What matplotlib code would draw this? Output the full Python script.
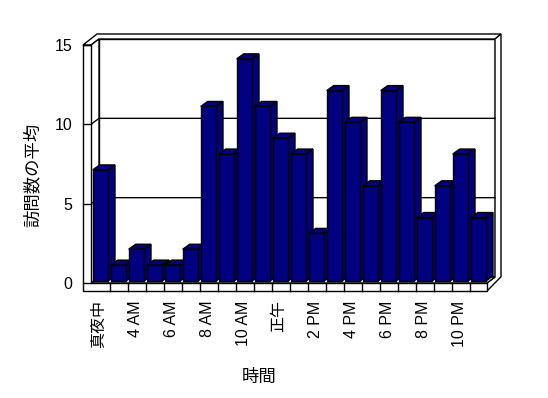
import matplotlib
matplotlib.use("Agg")
import matplotlib.pyplot as plt
from matplotlib.patches import Polygon
import matplotlib.transforms as mtransforms

plt.rcParams['font.family'] = ['Liberation Sans', 'Noto Sans CJK JP', 'DejaVu Sans']

# ---- data ----
values = [7, 1, 2, 1, 1, 2, 11, 8, 14, 11, 9, 8, 3, 12, 10, 6, 12, 10, 4, 6, 8, 4]
tick_idx = [0, 2, 4, 6, 8, 10, 12, 14, 16, 18, 20]
tick_labels = ['真夜中', '4 AM', '6 AM', '8 AM', '10 AM', '正午', '2 PM', '4 PM',
               '6 PM', '8 PM', '10 PM']
y_ticks = [0, 5, 10, 15]
y_label = '訪問数の平均'
x_label = '時間'

BAR_COLOR = '#000080'
W, H = 548, 398
fig = plt.figure(figsize=(W / 100, H / 100), dpi=100)
# front plane of the 3D box
L, R, T, B = 92, 488, 45, 283
ax = fig.add_axes([L / W, 1 - B / H, (R - L) / W, (B - T) / H])
n = len(values)
ax.set_xlim(-0.5, n - 0.5)
ax.set_ylim(0, 15)
for s in ax.spines.values():
    s.set_visible(False)

sx = (R - L) / n          # px per category
sy = (B - T) / 15.0       # px per value unit


def px(dx_px, dy_px):
    """convert a pixel offset to data units (dy positive = up)"""
    return dx_px / sx, dy_px / sy


# geometry in data units
Dx, Dy = px(8, 6)          # wall depth
Tx, Ty = px(6, 5)          # back wall thickness
wall_out = -0.5 - 9 / sx   # outer x of side wall
wall_in = -0.5 - 1 / sx    # inner x of side wall
floor_bot = -8 / sy
x_end = n - 0.5 - 1 / sx
ymax = 15

kw = dict(closed=True, fill=True, facecolor='white', edgecolor='black',
          linewidth=1.0, clip_on=False, joinstyle='miter')

# back wall inner face
ax.add_patch(Polygon([(wall_in + Dx, Dy), (x_end + Dx, Dy), (x_end + Dx, ymax + Dy),
                      (wall_in + Dx, ymax + Dy)], zorder=1, **kw))
# back wall top
ax.add_patch(Polygon([(wall_in + Dx, ymax + Dy), (x_end + Dx, ymax + Dy),
                      (x_end + Dx + Tx, ymax + Dy + Ty), (wall_out + Dx + Tx, ymax + Dy + Ty),
                      (wall_out, ymax), (wall_in, ymax)], zorder=1, **kw))
# back wall right edge + floor right side
ax.add_patch(Polygon([(x_end + Dx, Dy), (x_end + Dx, ymax + Dy),
                      (x_end + Dx + Tx, ymax + Dy + Ty), (x_end + Dx + Tx, Dy + Ty - 0.3),
                      (x_end, floor_bot), (x_end, 0)], zorder=1, **kw))
# floor top
ax.add_patch(Polygon([(wall_in, 0), (x_end, 0), (x_end + Dx, Dy), (wall_in + Dx, Dy)],
                     zorder=1, **kw))
# side wall inner face
ax.add_patch(Polygon([(wall_in, 0), (wall_in + Dx, Dy), (wall_in + Dx, ymax + Dy),
                      (wall_in, ymax)], zorder=1, **kw))
# gridlines on back wall and side wall
for v in y_ticks[1:-1]:
    ax.plot([wall_in, wall_in + Dx, x_end + Dx], [v, v + Dy, v + Dy],
            color='black', lw=1.0, zorder=2, clip_on=False)
# front L (side wall front + floor front)
ax.add_patch(Polygon([(wall_out, ymax), (wall_in, ymax), (wall_in, 0), (x_end, 0),
                      (x_end, floor_bot), (wall_out, floor_bot)], zorder=5, **kw))
for v in y_ticks:
    ax.plot([wall_out, wall_in], [v, v], color='black', lw=1.0, zorder=6, clip_on=False)
for i in range(1, n):
    ax.plot([i - 0.5, i - 0.5], [0, floor_bot], color='black', lw=1.0, zorder=6,
            clip_on=False)

# bars
bx0, by0 = px(0.7, 2)     # bar front offset
bw = 15.3 / sx
bdx, bdy = px(7, 5)
bkw = dict(closed=True, facecolor=BAR_COLOR, edgecolor='black', linewidth=1.0,
           clip_on=False, joinstyle='miter')
for i, v in enumerate(values):
    x0 = i - 0.5 + bx0
    x1 = x0 + bw
    y0 = by0
    y1 = by0 + v
    z = 3 + i * 0.01
    ax.add_patch(Polygon([(x1, y0), (x1 + bdx, y0 + bdy), (x1 + bdx, y1 + bdy), (x1, y1)],
                         zorder=z, **bkw))
    ax.add_patch(Polygon([(x0, y1), (x1, y1), (x1 + bdx, y1 + bdy), (x0 + bdx, y1 + bdy)],
                         zorder=z, **bkw))
    ax.add_patch(Polygon([(x0, y0), (x1, y0), (x1, y1), (x0, y1)], zorder=z + 0.001, **bkw))

# ticks / labels
ax.set_yticks(y_ticks)
ax.set_yticklabels([str(t) for t in y_ticks], fontsize=11.5)
ax.tick_params(axis='y', length=0, pad=14.4)
ax.set_xticks(tick_idx)
ax.set_xticklabels(tick_labels, rotation=90, fontsize=11.5)
ax.tick_params(axis='x', length=0, pad=12.5)
offset = mtransforms.ScaledTranslation(-2 / 100, 0, fig.dpi_scale_trans)
for lab in ax.get_xticklabels():
    lab.set_transform(lab.get_transform() + offset)

fig.text(32 / W, 1 - 175 / H, y_label, rotation=90, ha='center', va='center', fontsize=12.5)
fig.text(259 / W, 1 - 377 / H, x_label, ha='center', va='center', fontsize=12.5)

fig.savefig('out.png', dpi=100, facecolor='white')
